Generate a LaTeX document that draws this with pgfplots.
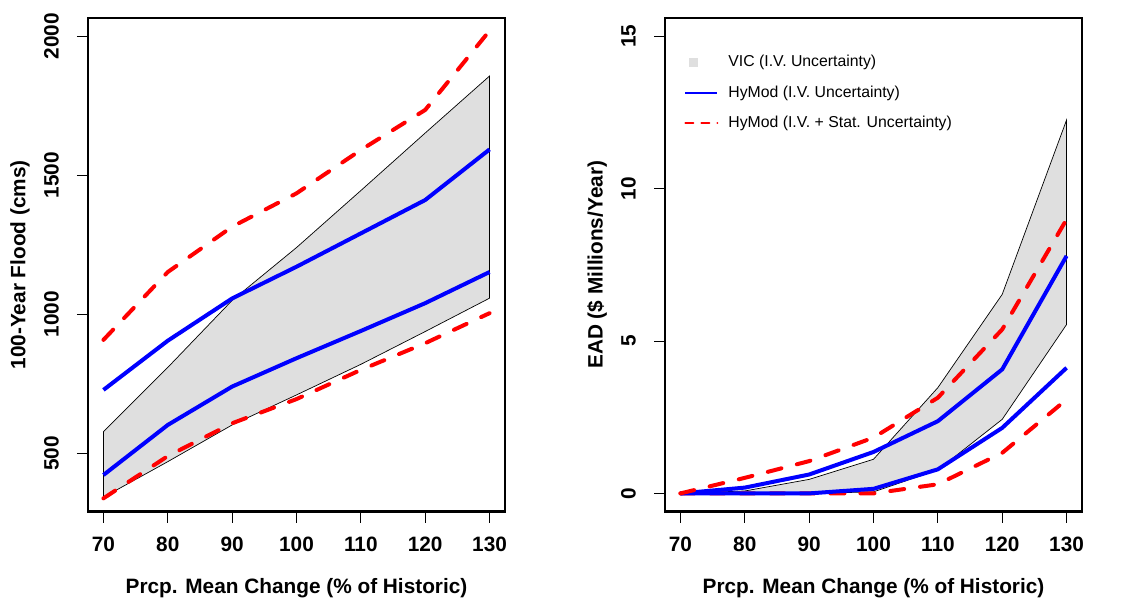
\documentclass[border=0pt]{standalone}
\usepackage{pgfplots}
\pgfplotsset{compat=1.18}
\usepackage{fontspec}
\setmainfont{Liberation Sans}
\definecolor{bandgray}{rgb}{0.875,0.875,0.875}
\pgfplotsset{
  rstyle/.style={
    scale only axis,
    width=208.5pt, height=246.9pt,
    xmin=67.6, xmax=132.4,
    xtick={70,80,90,100,110,120,130},
    tick align=outside,
    major tick length=5.5pt,
    tick style={black, line width=0.5pt},
    axis line style={line width=1.3pt},
    xtick pos=bottom, ytick pos=left,
    /pgf/number format/assume math mode=true,
    /pgf/number format/1000 sep={},
    ticklabel style={font=\bfseries\fontsize{10.4}{12}\selectfont},
    yticklabel style={rotate=90, anchor=south},
    yticklabel shift=5.5pt,
    xticklabel shift=3.5pt,
    label style={font=\bfseries\fontsize{10.4}{12}\selectfont},
    xlabel style={at={([yshift=-38.3pt]axis description cs:0.5,0)}, anchor=center},
    ylabel style={at={([xshift=-34pt]axis description cs:0,0.5)}, anchor=center, rotate=0},
  },
  bluel/.style={blue, line width=2pt, line join=round},
  redl/.style={red, line width=2pt, dash pattern=on 7pt off 8pt, line cap=round, line join=round},
  band/.style={fill=bandgray, draw=black, line width=0.35pt},
}
\begin{document}
\begin{tikzpicture}
\path[use as bounding box] (0,0) rectangle (562pt,299.5pt);
% Left panel
\begin{axis}[rstyle, at={(44pt,43.65pt)}, anchor=south west,
  ymin=290, ymax=2066, ytick={500,1000,1500,2000},
  xlabel={Prcp. Mean Change (\% of Historic)},
  ylabel={100-Year Flood (cms)}]
\addplot[band] coordinates {
 (70,578) (80,809) (90,1050) (100,1240) (110,1445) (120,1652) (130,1857)
 (130,1058) (120,938) (110,820) (100,710) (90,602) (80,470) (70,342)} -- cycle;
\addplot[bluel] coordinates {(70,728) (80,905) (90,1057) (100,1171) (110,1291) (120,1411) (130,1593)};
\addplot[bluel] coordinates {(70,422) (80,602) (90,740) (100,842) (110,940) (120,1040) (130,1152)};
\addplot[redl] coordinates {(70,908) (80,1152) (90,1315) (100,1435) (110,1591) (120,1735) (130,2020)};
\addplot[redl] coordinates {(70,338) (80,490) (90,608) (100,695) (110,800) (120,896) (130,1004)};
\end{axis}
% Right panel
\begin{axis}[rstyle, at={(332.5pt,43.65pt)}, anchor=south west,
  ymin=-0.6, ymax=15.6, ytick={0,5,10,15},
  xlabel={Prcp. Mean Change (\% of Historic)},
  ylabel={EAD (\$ Millions/Year)},
  legend style={at={([xshift=9.5pt,yshift=-17.5pt]axis description cs:0,1)}, anchor=north west,
    draw=none, fill=none, font=\fontsize{7.9}{9}\selectfont, row sep=6pt, column sep=4pt,
    inner sep=0pt, nodes={inner sep=1pt}},
  legend cell align=left]
\addplot[band, legend image code/.code={\fill[bandgray] (0.25*16pt-2pt,-2pt) rectangle (0.25*16pt+2pt,2pt);}] coordinates {
 (70,0) (80,0.08) (90,0.46) (100,1.12) (110,3.47) (120,6.53) (130,12.25)
 (130,5.54) (120,2.43) (110,0.77) (100,0.05) (90,0) (80,0) (70,0)} -- cycle;
\addlegendentry{VIC (I.V. Uncertainty)}
\addplot[redl, forget plot] coordinates {(70,0) (80,0) (90,0) (100,0) (110,0.3) (120,1.33) (130,3.08)};
\addplot[bluel, legend image code/.code={\draw[blue, line width=1pt] (0pt,0pt) -- (16pt,0pt);}] coordinates {(70,0) (80,0.19) (90,0.62) (100,1.36) (110,2.37) (120,4.07) (130,7.79)};
\addlegendentry{HyMod (I.V. Uncertainty)}
\addplot[bluel, forget plot] coordinates {(70,0) (80,0) (90,0) (100,0.15) (110,0.79) (120,2.15) (130,4.12)};
\addplot[redl, legend image code/.code={\draw[red, line width=1pt, dash pattern=on 4pt off 4pt] (0pt,0pt) -- (16pt,0pt);}] coordinates {(70,0) (80,0.51) (90,1.06) (100,1.83) (110,3.14) (120,5.38) (130,8.99)};
\addlegendentry{HyMod (I.V. + Stat. Uncertainty)}
\end{axis}
\end{tikzpicture}
\end{document}
